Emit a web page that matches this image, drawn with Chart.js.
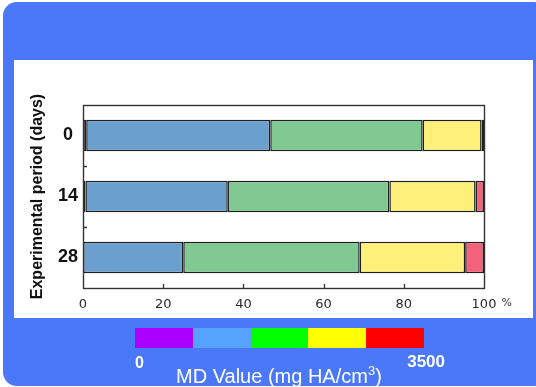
<!DOCTYPE html>
<html><head><meta charset="utf-8">
<script src="https://cdn.jsdelivr.net/npm/chart.js@4/dist/chart.umd.min.js"></script>
<style>
html,body{margin:0;padding:0;background:#fff;}
#wrap{position:relative;width:536px;height:387px;overflow:hidden;font-family:'Liberation Sans',Arial,sans-serif;}
#bg{position:absolute;left:3px;top:2px;width:545px;height:384px;border-radius:14px;background:#4a78f9;}
#panel{position:absolute;left:14px;top:60px;width:519px;height:258px;background:#fff;}
#c{position:absolute;left:0;top:0;}
#scale{position:absolute;left:135px;top:328px;width:289px;height:20px;display:flex;}
#scale div{flex:1;height:100%;}
.lab{position:absolute;color:#fff;white-space:nowrap;}
#smin{left:135px;top:355px;font:bold 16px/16px 'Liberation Sans',Arial,sans-serif;}
#smax{right:91px;top:353px;font:bold 17px/17px 'Liberation Sans',Arial,sans-serif;}
#stitle{left:176px;top:366px;font:20px/20px 'Liberation Sans',Arial,sans-serif;}
#stitle sup{font-size:13px;vertical-align:8px;line-height:0;}
</style></head>
<body>
<div id="wrap">
  <div id="bg"></div>
  <div id="panel"></div>
  <canvas id="c" width="536" height="387"></canvas>
  <div id="scale"></div>
  <div class="lab" id="smin"></div>
  <div class="lab" id="smax"></div>
  <div class="lab" id="stitle">MD Value (mg HA/cm<sup>3</sup>)</div>
</div>
<script>
// ---- data ----
const categories = ['0', '14', '28'];
const purpleVals = [0.8, 0.6, 0.0];
const blueVals   = [45.9, 35.5, 25.0];
const greenVals  = [38.0, 40.3, 44.0];
const yellowVals = [14.7, 21.5, 26.3];
const redVals    = [0.6, 2.1, 4.7];
const xTickValues = [0, 20, 40, 60, 80, 100];
const yTitle = 'Experimental period (days)';
const scaleMin = '0';
const scaleMax = '3500';

// ---- styles ----
const barColors = ['#a86aa8', '#6a9fce', '#80c993', '#fff07a', '#f4627a'];
const scaleColors = ['#aa00ff', '#55a3ff', '#00ff00', '#ffff00', '#ff0000'];

document.getElementById('smin').textContent = scaleMin;
document.getElementById('smax').textContent = scaleMax;
const sc = document.getElementById('scale');
scaleColors.forEach(c => { const d = document.createElement('div'); d.style.background = c; sc.appendChild(d); });

const seriesVals = [purpleVals, blueVals, greenVals, yellowVals, redVals];
const seriesNames = ['MD1', 'MD2', 'MD3', 'MD4', 'MD5'];

const framePlugin = {
  id: 'frame',
  afterDatasetsDraw(chart) {
    const {ctx, chartArea: a, scales: {x, y}} = chart;
    ctx.save();
    ctx.strokeStyle = '#333';
    ctx.lineWidth = 1.4;
    ctx.strokeRect(Math.round(a.left) + 0.5, Math.round(a.top) + 0.5, Math.round(a.right - a.left), Math.round(a.bottom - a.top));
    ctx.lineWidth = 1.3;
    ctx.beginPath();
    xTickValues.forEach(v => {
      if (v === x.min || v === x.max) return;
      const px = Math.round(x.getPixelForValue(v)) + 0.5;
      ctx.moveTo(px, a.bottom);
      ctx.lineTo(px, a.bottom - 4);
    });
    for (let i = 1; i < categories.length; i++) {
      const py = Math.round((y.getPixelForValue(i - 1) + y.getPixelForValue(i)) / 2) + 0.5;
      ctx.moveTo(a.left, py);
      ctx.lineTo(a.left + 4, py);
    }
    ctx.stroke();
    // percent sign after the last tick label
    ctx.font = "13px 'DejaVu Sans'";
    const w = ctx.measureText(String(x.max)).width;
    ctx.font = "11px 'DejaVu Sans'";
    ctx.fillStyle = '#333';
    ctx.textBaseline = 'middle';
    ctx.textAlign = 'left';
    ctx.fillText('%', x.getPixelForValue(x.max) + w / 2 + 5, a.bottom + 15);
    ctx.restore();
  }
};

new Chart(document.getElementById('c'), {
  type: 'bar',
  data: {
    labels: categories,
    datasets: seriesVals.map((vals, i) => ({
      label: seriesNames[i],
      data: vals,
      backgroundColor: barColors[i],
      borderColor: '#1e1e1e',
      borderWidth: 1.5,
      borderSkipped: false,
      categoryPercentage: 1,
      barPercentage: 0.52
    }))
  },
  options: {
    indexAxis: 'y',
    responsive: false,
    animation: false,
    events: [],
    layout: {padding: {left: 20, top: 105, right: 52, bottom: 69}},
    plugins: {legend: {display: false}, tooltip: {enabled: false}},
    scales: {
      x: {
        type: 'linear', stacked: true, min: 0, max: 100,
        afterBuildTicks(s) { s.ticks = xTickValues.map(v => ({value: v})); },
        afterFit(s) { s.height = 30; },
        grid: {display: false, drawTicks: false},
        border: {display: false},
        ticks: {font: {family: 'DejaVu Sans', size: 13}, color: '#2a2a2a', padding: 9, maxRotation: 0}
      },
      y: {
        stacked: true,
        afterFit(s) { s.width = 63; },
        grid: {display: false, drawTicks: false},
        border: {display: false},
        ticks: {font: {family: 'Liberation Sans', size: 18, weight: 'bold'}, color: '#111', padding: 5, crossAlign: 'center'},
        title: {display: true, text: yTitle, color: '#111', font: {family: 'Liberation Sans', size: 16, weight: 'bold'}, padding: {top: 8, bottom: 0}}
      }
    }
  },
  plugins: [framePlugin]
});
</script>
</body></html>
